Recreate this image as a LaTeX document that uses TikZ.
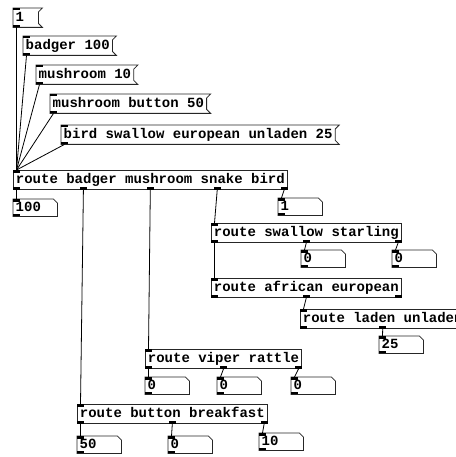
\documentclass[tikz,border=0pt]{standalone}
\usepackage{fontspec}
\newfontfamily\pdmono{Liberation Mono}
\usetikzlibrary{calc}
\newcommand{\pdfnt}{\pdmono\bfseries\fontsize{14}{16}\selectfont}
% inlet and outlets of a box: name, number of outlets minus one
\newcommand{\pdports}[2]{%
  \path ([xshift=3.5pt]#1.south west) coordinate (#1-l)
        ([xshift=-3.5pt]#1.south east) coordinate (#1-r);
  \foreach \k in {0,...,#2} {
    \ifnum#2=0 \def\f{0}\else\pgfmathsetmacro{\f}{\k/#2}\fi
    \coordinate (#1-o\k) at ($(#1-l)!\f!(#1-r)$);
    \fill[iolet] ([xshift=-3.5pt]#1-o\k) rectangle ++(7,-2.5);
  }
  \coordinate (#1-i) at ([xshift=3.5pt]#1.north west);
  \fill[iolet] (#1.north west) rectangle ++(7,2.5);
}

\begin{document}
\begin{tikzpicture}[x=1pt, y=-1pt,
    boxline/.style={draw=black!85, line width=0.8pt},
    iolet/.style={fill=black},
    wire/.style={draw=black, line width=0.8pt},
    pdtext/.style={font=\pdfnt, anchor=north west, inner xsep=2.5pt, inner ysep=0pt,
        text height=10pt, text depth=3pt, minimum height=19pt},
    pdobj/.style={pdtext, boxline},
    pdmsg/.style={pdtext, append after command={\pgfextra{\draw[boxline]
        (\tikzlastnode.north west) -- ([xshift=4pt]\tikzlastnode.north east)
        -- ([yshift=-4pt]\tikzlastnode.north east) -- ([yshift=4pt]\tikzlastnode.south east)
        -- ([xshift=4pt]\tikzlastnode.south east) -- (\tikzlastnode.south west) -- cycle;}}},
    pdnum/.style={pdtext, text width=39pt, minimum height=17pt, append after command={\pgfextra{\draw[boxline]
        (\tikzlastnode.north west) -- ([xshift=-4pt]\tikzlastnode.north east)
        -- ([yshift=-4pt]\tikzlastnode.north east) -- (\tikzlastnode.south east)
        -- (\tikzlastnode.south west) -- cycle;}}}]
    \fill[white] (0,0) rectangle (455,457);
    \useasboundingbox (0,0) rectangle (455,457);

    % Messages
    \node[pdmsg, text width=20pt] (msgone) at (13,8) {1};
    \node[pdmsg] (msgbadger) at (23,36) {badger 100};
    \node[pdmsg] (msgmush) at (36,65) {mushroom 10};
    \node[pdmsg] (msgbutton) at (50,94) {mushroom button 50};
    \node[pdmsg] (msgbird) at (61,125) {bird swallow european unladen 25};

    % Routers
    \node[pdobj] (rmain) at (13,170) {route badger mushroom snake bird};
    \node[pdobj] (rswallow) at (211,223) {route swallow starling};
    \node[pdobj] (rafrican) at (211,278) {route african european};
    \node[pdobj] (rladen) at (300,309) {route laden unladen};
    \node[pdobj] (rviper) at (145,349) {route viper rattle};
    \node[pdobj] (rbutton) at (77,404) {route button breakfast};

    % Number boxes
    \node[pdnum] (nbadger) at (13,199) {100};
    \node[pdnum] (nbird) at (278,198) {1};
    \node[pdnum] (nswallow) at (301,250) {0};
    \node[pdnum] (nstarling) at (392,250) {0};
    \node[pdnum] (nladen) at (379,336) {25};
    \node[pdnum] (nviper) at (145,377) {0};
    \node[pdnum] (nrattle) at (217,377) {0};
    \node[pdnum] (nsnake) at (291,377) {0};
    \node[pdnum] (nbutton) at (77,436) {50};
    \node[pdnum] (nbreak) at (168,436) {0};
    \node[pdnum] (nrest) at (259,433) {10};

    \foreach \b in {msgone,msgbadger,msgmush,msgbutton,msgbird,nbadger,nbird,nswallow,
        nstarling,nladen,nviper,nrattle,nsnake,nbutton,nbreak,nrest}
        {\pdports{\b}{0}}
    \pdports{rmain}{4}
    \pdports{rswallow}{2}
    \pdports{rafrican}{2}
    \pdports{rladen}{2}
    \pdports{rviper}{2}
    \pdports{rbutton}{2}

    % Connections
    \foreach \m in {msgone,msgbadger,msgmush,msgbutton,msgbird}
        \draw[wire] (\m-o0) -- (rmain-i);
    \draw[wire] (rmain-o0) -- (nbadger-i);
    \draw[wire] (rmain-o1) -- (rbutton-i);
    \draw[wire] (rmain-o2) -- (rviper-i);
    \draw[wire] (rmain-o3) -- (rswallow-i);
    \draw[wire] (rmain-o4) -- (nbird-i);
    \draw[wire] (rswallow-o0) -- (rafrican-i);
    \draw[wire] (rswallow-o1) -- (nswallow-i);
    \draw[wire] (rswallow-o2) -- (nstarling-i);
    \draw[wire] (rafrican-o1) -- (rladen-i);
    \draw[wire] (rladen-o1) -- (nladen-i);
    \draw[wire] (rviper-o0) -- (nviper-i);
    \draw[wire] (rviper-o1) -- (nrattle-i);
    \draw[wire] (rviper-o2) -- (nsnake-i);
    \draw[wire] (rbutton-o0) -- (nbutton-i);
    \draw[wire] (rbutton-o1) -- (nbreak-i);
    \draw[wire] (rbutton-o2) -- (nrest-i);
\end{tikzpicture}
\end{document}
